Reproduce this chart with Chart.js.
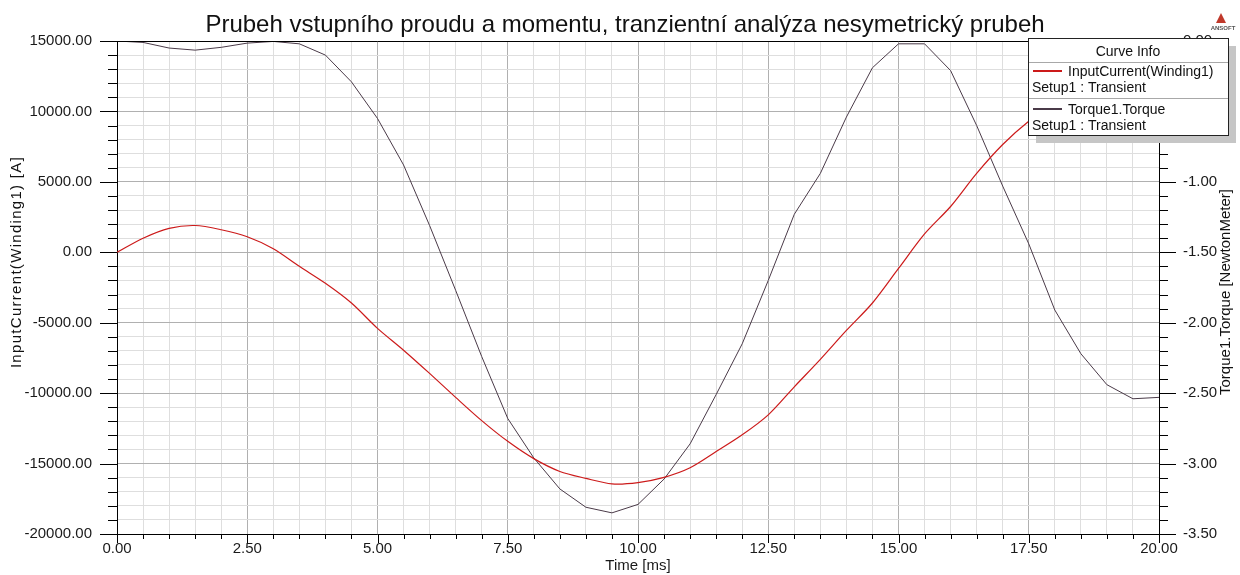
<!DOCTYPE html>
<html>
<head>
<meta charset="utf-8">
<title>Prubeh vstupniho proudu</title>
<script src="https://cdn.jsdelivr.net/npm/chart.js@4.4.0/dist/chart.umd.min.js"></script>
<style>
  html, body { margin: 0; padding: 0; background: #fff; }
</style>
</head>
<body>
<canvas id="myChart" width="1240" height="575"></canvas>
<script>
const chartTitle = 'Prubeh vstupního proudu a momentu, tranzientní analýza nesymetrický prubeh';
const xTitle = 'Time [ms]';
const leftTitle = 'InputCurrent(Winding1) [A]';
const rightTitle = 'Torque1.Torque [NewtonMeter]';

// time samples [ms]
const timeMs = [0, 0.5, 1, 1.5, 2, 2.5, 3, 3.5, 4, 4.5, 5, 5.5, 6, 6.5, 7, 7.5, 8, 8.5, 9, 9.5,
  10, 10.5, 11, 11.5, 12, 12.5, 13, 13.5, 14, 14.5, 15, 15.5, 16, 16.5, 17, 17.5, 18, 18.5, 19, 19.5, 20];

// InputCurrent(Winding1) [A]
const inputCurrent = [0, 1000, 1700, 1900, 1600, 1100, 250, -1000, -2200, -3600, -5400, -6950, -8600, -10300, -11950, -13420,
  -14650, -15560, -16050, -16440, -16350, -15980, -15300, -14150, -12960, -11540, -9550, -7600, -5550, -3600,
  -1150, 1300, 3250, 5600, 7650, 9300, 10600, 11700, 12500, 13000, 13200];

// Torque1.Torque [NewtonMeter]
const torque = [0, -0.01, -0.05, -0.065, -0.045, -0.015, -0.003, -0.02, -0.10, -0.29, -0.55, -0.88, -1.31, -1.77, -2.24, -2.68,
  -2.96, -3.18, -3.31, -3.35, -3.29, -3.11, -2.86, -2.51, -2.15, -1.70, -1.23, -0.94, -0.54, -0.19,
  -0.02, -0.02, -0.21, -0.60, -1.03, -1.44, -1.91, -2.22, -2.44, -2.54, -2.53];

const seriesNames = ['InputCurrent(Winding1)', 'Torque1.Torque'];
const seriesSetup = ['Setup1 : Transient', 'Setup1 : Transient'];
const seriesColors = ['#cc1a1a', '#4a3a48'];

// axis ranges: [min, max, major step, minor step]
const xRange = [0, 20, 2.5, 0.5];
const currentRange = [-20000, 15000, 5000, 1000];
const torqueRange = [-3.5, 0, 0.5, 0.1];

const FONT = 'Liberation Sans, Arial, sans-serif';

function isMajor(v, range) {
  const r = Math.round((v - range[0]) / range[3]);
  return r % Math.round(range[2] / range[3]) === 0;
}
function gridColor(range) {
  return c => (c.tick && isMajor(c.tick.value, range)) ? '#b0b0b0' : '#dedede';
}
function labelFor(range) {
  return v => isMajor(v, range) ? v.toFixed(2) : '';
}

function pts(ys) {
  return timeMs.map((t, i) => ({x: t, y: ys[i]}));
}

// tick marks, frame, titles, curve info box
const ansoftPlugin = {
  id: 'ansoft',
  afterDraw(chart) {
    const ctx = chart.ctx;
    const a = chart.chartArea;
    const sx = chart.scales.x, sy = chart.scales.y, sy1 = chart.scales.y1;
    ctx.save();
    ctx.strokeStyle = '#000';
    ctx.lineWidth = 1;
    ctx.beginPath();
    // top frame line
    ctx.moveTo(a.left, Math.round(a.top) + 0.5);
    ctx.lineTo(a.right, Math.round(a.top) + 0.5);
    sx.ticks.forEach(t => {
      const p = Math.round(sx.getPixelForValue(t.value)) + 0.5;
      const len = isMajor(t.value, xRange) ? 9 : 5;
      ctx.moveTo(p, a.bottom); ctx.lineTo(p, a.bottom + len);
    });
    sy.ticks.forEach(t => {
      const p = Math.round(sy.getPixelForValue(t.value)) + 0.5;
      const len = isMajor(t.value, currentRange) ? 17 : 9;
      ctx.moveTo(a.left, p); ctx.lineTo(a.left - len, p);
    });
    sy1.ticks.forEach(t => {
      const p = Math.round(sy1.getPixelForValue(t.value)) + 0.5;
      const len = isMajor(t.value, torqueRange) ? 17 : 9;
      ctx.moveTo(a.right, p); ctx.lineTo(a.right + len, p);
    });
    ctx.stroke();

    // chart title
    ctx.fillStyle = '#111';
    ctx.font = '24px ' + FONT;
    ctx.textAlign = 'center';
    ctx.textBaseline = 'alphabetic';
    ctx.fillText(chartTitle, 625, 32);

    // axis titles, reading upwards
    ctx.textBaseline = 'middle';
    ctx.font = '15px ' + FONT;
    ctx.translate(1226, 292);
    ctx.rotate(-Math.PI / 2);
    ctx.fillText(rightTitle, 0, 0);
    ctx.setTransform(1, 0, 0, 1, 0, 0);
    ctx.translate(17, 262);
    ctx.rotate(-Math.PI / 2);
    if ('letterSpacing' in ctx) ctx.letterSpacing = '1.3px';
    ctx.fillText(leftTitle, 0, 0);
    if ('letterSpacing' in ctx) ctx.letterSpacing = '0px';
    ctx.setTransform(1, 0, 0, 1, 0, 0);

    // curve info box
    const lx = 1028, ly = 38, lw = 200, lh = 97;
    ctx.fillStyle = '#c6c6c6';
    ctx.fillRect(lx + 8, ly + 8, lw, lh);
    ctx.fillStyle = '#fff';
    ctx.fillRect(lx, ly, lw, lh);
    ctx.lineWidth = 1;
    ctx.strokeStyle = '#222';
    ctx.strokeRect(lx + 0.5, ly + 0.5, lw, lh);
    ctx.strokeStyle = '#a8a8a8';
    ctx.beginPath();
    ctx.moveTo(lx + 1, ly + 24.5); ctx.lineTo(lx + lw, ly + 24.5);
    ctx.moveTo(lx + 1, ly + 60.5); ctx.lineTo(lx + lw, ly + 60.5);
    ctx.stroke();
    ctx.fillStyle = '#111';
    ctx.font = '14px ' + FONT;
    ctx.textAlign = 'center';
    ctx.fillText('Curve Info', lx + lw / 2, ly + 14);
    chart.data.datasets.forEach((ds, i) => {
      const y0 = ly + 34 + i * 38;
      ctx.strokeStyle = ds.borderColor;
      ctx.lineWidth = 2;
      ctx.beginPath();
      ctx.moveTo(lx + 5, y0 - 1); ctx.lineTo(lx + 34, y0 - 1);
      ctx.stroke();
      ctx.fillStyle = '#111';
      ctx.textAlign = 'left';
      ctx.fillText(ds.label, lx + 40, y0);
      ctx.fillText(seriesSetup[i], lx + 4, y0 + 16);
    });

    // ansoft mark
    ctx.fillStyle = '#c0392b';
    ctx.beginPath();
    ctx.moveTo(1221, 13); ctx.lineTo(1226, 23); ctx.lineTo(1216, 23);
    ctx.closePath();
    ctx.fill();
    ctx.fillStyle = '#555';
    ctx.font = 'bold 6px ' + FONT;
    ctx.textAlign = 'center';
    ctx.fillText('ANSOFT', 1223, 28);
    ctx.restore();
  }
};

const tickFont = {family: FONT, size: 15};

new Chart(document.getElementById('myChart').getContext('2d'), {
  type: 'line',
  data: {
    datasets: [
      {label: seriesNames[0], data: pts(inputCurrent), yAxisID: 'y', borderColor: seriesColors[0],
        borderWidth: 1.2, pointRadius: 0, tension: 0.3, fill: false},
      {label: seriesNames[1], data: pts(torque), yAxisID: 'y1', borderColor: seriesColors[1],
        borderWidth: 1, pointRadius: 0, tension: 0, fill: false}
    ]
  },
  options: {
    responsive: false,
    animation: false,
    layout: {padding: {top: 41, left: 0, right: 0, bottom: 0}},
    plugins: {legend: {display: false}, title: {display: false}, tooltip: {enabled: false}},
    scales: {
      x: {
        type: 'linear', min: xRange[0], max: xRange[1],
        afterFit: s => { s.height = 41; },
        grid: {color: gridColor(xRange), drawTicks: false},
        border: {display: true, color: '#000', width: 1},
        ticks: {stepSize: xRange[3], autoSkip: false, maxRotation: 0, padding: 6,
          color: '#1a1a1a', font: tickFont, callback: labelFor(xRange)},
        title: {display: true, text: xTitle, color: '#1a1a1a', font: tickFont, padding: {top: 0, bottom: 0}}
      },
      y: {
        position: 'left', min: currentRange[0], max: currentRange[1],
        afterFit: s => { s.width = 117; },
        grid: {color: gridColor(currentRange), drawTicks: false},
        border: {display: true, color: '#000', width: 1},
        ticks: {stepSize: currentRange[3], autoSkip: false, padding: 25,
          color: '#1a1a1a', font: tickFont, callback: labelFor(currentRange)},
        title: {display: false}
      },
      y1: {
        position: 'right', min: torqueRange[0], max: torqueRange[1],
        afterFit: s => { s.width = 81; },
        grid: {drawOnChartArea: false, drawTicks: false},
        border: {display: true, color: '#000', width: 1},
        ticks: {stepSize: torqueRange[3], autoSkip: false, padding: 24,
          color: '#1a1a1a', font: tickFont, callback: labelFor(torqueRange)},
        title: {display: false}
      }
    }
  },
  plugins: [ansoftPlugin]
});
</script>
</body>
</html>
